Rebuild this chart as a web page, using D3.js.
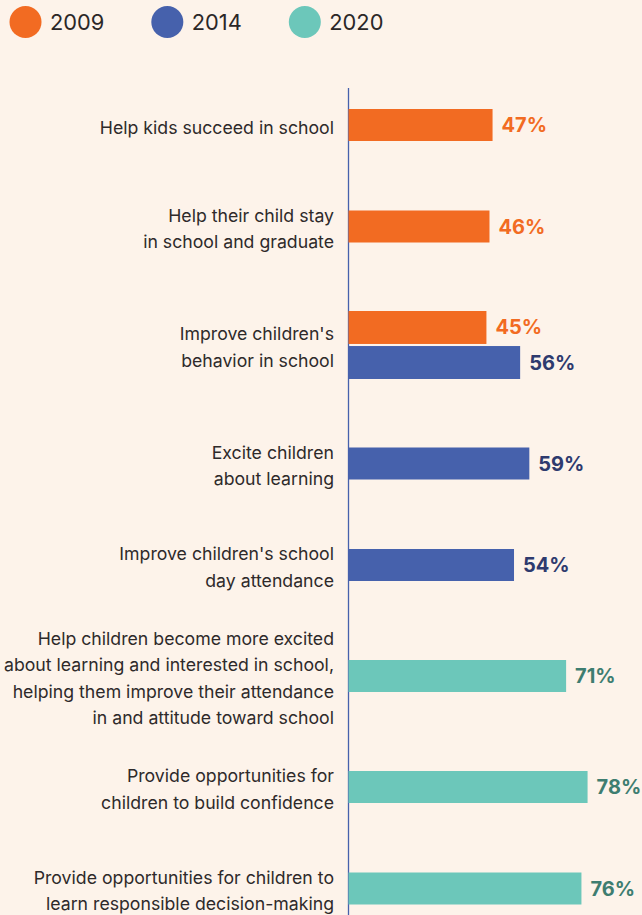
<!DOCTYPE html>
<html>
<head>
<meta charset="utf-8">
<script src="https://cdn.jsdelivr.net/npm/d3@7"></script>
<style>
  html, body { margin: 0; padding: 0; background: #FDF3EA; }
  svg { display: block; }
</style>
</head>
<body>
<svg id="chart" width="642" height="915"></svg>
<script>
// Survey items (each entry is the label split into its display lines)
const categories = [
  ["Help kids succeed in school"],
  ["Help their child stay", "in school and graduate"],
  ["Improve children's", "behavior in school"],
  ["Excite children", "about learning"],
  ["Improve children's school", "day attendance"],
  ["Help children become more excited", "about learning and interested in school,", "helping them improve their attendance", "in and attitude toward school"],
  ["Provide opportunities for", "children to build confidence"],
  ["Provide opportunities for children to", "learn responsible decision-making"]
];

const years = ["2009", "2014", "2020"];

// Percent of parents agreeing, by survey year (null = item not asked that year)
const values2009 = [47, 46, 45, null, null, null, null, null];
const values2014 = [null, null, 56, 59, 54, null, null, null];
const values2020 = [null, null, null, null, null, 71, 78, 76];

const barColors   = ["#F26B22", "#4661AC", "#6CC7BA"];
const labelColors = ["#F26B22", "#2E3A6E", "#3E7D70"];

const seriesValues = [values2009, values2014, values2020];

const svg = d3.select("#chart");
const W = 642, H = 915;

const fontText = "Inter, 'Open Sans', sans-serif";

// ---- legend ----
const legend = svg.append("g").attr("class", "legend");
let lx = 9.5;
years.forEach((yr, i) => {
  const g = legend.append("g");
  g.append("circle")
    .attr("cx", lx + 16).attr("cy", 22).attr("r", 16)
    .attr("fill", barColors[i]);
  const t = g.append("text")
    .attr("x", lx + 40.5).attr("y", 30)
    .attr("font-family", fontText)
    .attr("font-size", 21.8)
    .attr("fill", "#2B2727")
    .text(yr);
  const tw = t.node().getComputedTextLength();
  lx = lx + 40.5 + tw + 47;
});

// ---- layout of rows ----
const lineH = 26.5;
const barH = 32, barGap = 2, barStep = barH + barGap;
const rowPad = 53, rowGap = 14.5, rowsTop = 81.5;

const rows = categories.map((lines, i) => {
  const present = years.filter((y, s) => seriesValues[s][i] != null);
  return { lines, i, present };
});

const centers = [];
let cursor = rowsTop;
rows.forEach(r => {
  const h = Math.max(r.lines.length * lineH, r.present.length * barStep + rowPad);
  centers.push(cursor + h / 2);
  cursor += h + rowGap;
});

const y = d3.scaleOrdinal().domain(d3.range(categories.length)).range(centers);
const x = d3.scaleLinear().domain([0, 100]).range([348.5, 655]);

// ---- axis line ----
svg.append("line")
  .attr("x1", x(0)).attr("x2", x(0))
  .attr("y1", 88).attr("y2", H)
  .attr("stroke", "#4661AC")
  .attr("stroke-width", 1.3);

// ---- category labels ----
const labelG = svg.append("g");
rows.forEach(r => {
  const c = y(r.i);
  const n = r.lines.length;
  const t = labelG.append("text")
    .attr("text-anchor", "end")
    .attr("font-family", fontText)
    .attr("font-size", 17.7)
    .attr("fill", "#2E2A2A");
  r.lines.forEach((ln, k) => {
    t.append("tspan")
      .attr("x", 334)
      .attr("y", c + 8.5 + (k - (n - 1) / 2) * lineH)
      .text(ln);
  });
});

// ---- bars and value labels ----
const barsG = svg.append("g");
rows.forEach(r => {
  const c = y(r.i);
  const inner = d3.scaleBand()
    .domain(r.present)
    .range([c - (r.present.length * barStep - barGap) / 2 - barGap / 2,
            c + (r.present.length * barStep - barGap) / 2 + barGap / 2])
    .paddingInner(barGap / barStep)
    .paddingOuter(0);
  r.present.forEach(yr => {
    const s = years.indexOf(yr);
    const v = seriesValues[s][r.i];
    barsG.append("rect")
      .attr("x", x(0))
      .attr("y", inner(yr))
      .attr("width", x(v) - x(0))
      .attr("height", inner.bandwidth())
      .attr("fill", barColors[s]);
    barsG.append("text")
      .attr("x", x(v) + 9)
      .attr("y", inner(yr) + inner.bandwidth() / 2 + 7)
      .attr("font-family", fontText)
      .attr("font-weight", 700)
      .attr("font-size", 20)
      .attr("fill", labelColors[s])
      .text(v + "%");
  });
});
</script>
</body>
</html>
